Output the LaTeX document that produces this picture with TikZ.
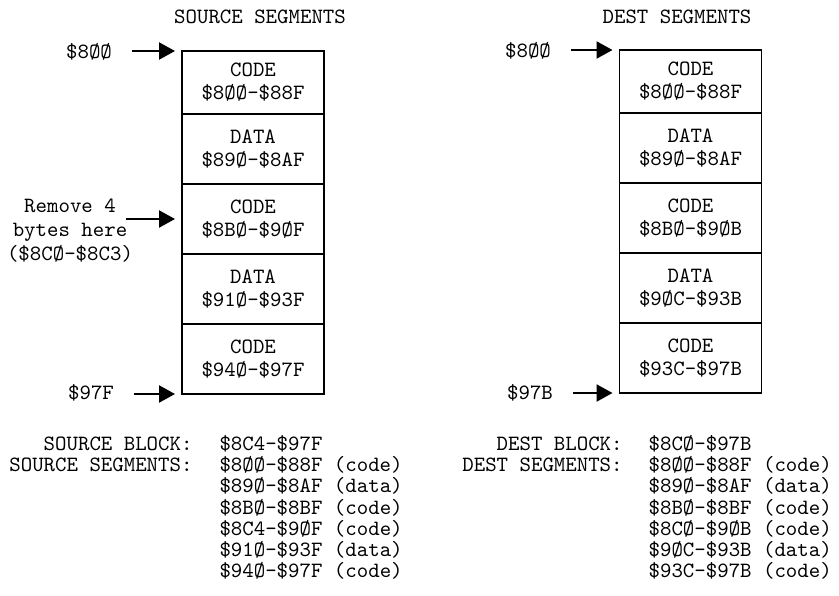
\documentclass[tikz,border=0pt]{standalone}
\usetikzlibrary{positioning,arrows.meta}
\tikzset{
  every node/.style={font=\fontsize{10.9}{11.5}\ttfamily},
  seg/.style={draw, line width=0.9pt, minimum width=71pt, minimum height=35pt,
    inner sep=0pt, outer sep=0pt, align=center},
  topseg/.style={seg, minimum height=31.5pt},
  ptr/.style={-{Triangle[length=8pt,width=8.5pt]}, line width=1.1pt,
    shorten <=6.5pt, shorten >=3.5pt},
}

\begin{document}
\begin{tikzpicture}[x=0.5pt,y=-0.5pt]
    \useasboundingbox (0,0) rectangle (839,595);

    % source segments
    \node (srctitle) at (260,17) {SOURCE SEGMENTS};
    \node[topseg] (s1) at (253,82.5) {CODE\\\$8ØØ-\$88F};
    \node[seg, below=0pt of s1] (s2) {DATA\\\$89Ø-\$8AF};
    \node[seg, below=0pt of s2] (s3) {CODE\\\$8BØ-\$9ØF};
    \node[seg, below=0pt of s3] (s4) {DATA\\\$91Ø-\$93F};
    \node[seg, below=0pt of s4] (s5) {CODE\\\$94Ø-\$97F};

    \node (srctop) at (89,52) {\$8ØØ};
    \node[align=center, font=\fontsize{10.9}{12}\ttfamily] (remove) at (70,231)
      {Remove 4\\bytes here\\(\$8CØ-\$8C3)};
    \node (srcbot) at (91,393) {\$97F};

    \draw[ptr] (srctop.east |- s1.north west) -- (s1.north west);
    \draw[ptr, shorten <=-7pt] (remove.east |- s3.west) -- (s3.west);
    \draw[ptr] (srcbot.east |- s5.south west) -- (s5.south west);

    % dest segments
    \node (dsttitle) at (677,17) {DEST SEGMENTS};
    \node[topseg] (d1) at (690.5,81.5) {CODE\\\$8ØØ-\$88F};
    \node[seg, below=0pt of d1] (d2) {DATA\\\$89Ø-\$8AF};
    \node[seg, below=0pt of d2] (d3) {CODE\\\$8BØ-\$9ØB};
    \node[seg, below=0pt of d3] (d4) {DATA\\\$9ØC-\$93B};
    \node[seg, below=0pt of d4] (d5) {CODE\\\$93C-\$97B};

    \node (dsttop) at (528,51) {\$8ØØ};
    \node (dstbot) at (530,393) {\$97B};

    \draw[ptr] (dsttop.east |- d1.north west) -- (d1.north west);
    \draw[ptr] (dstbot.east |- d5.south west) -- (d5.south west);

    % block lists
    \node[anchor=north west, inner sep=0pt] (srclist) at (9,435)
      {\fontsize{10.9}{10}\selectfont
       \begin{tabular}{@{}r@{\hspace{13.5pt}}l@{}}
         SOURCE BLOCK:    & \$8C4-\$97F\\
         SOURCE SEGMENTS: & \$8ØØ-\$88F (code)\\
                          & \$89Ø-\$8AF (data)\\
                          & \$8BØ-\$8BF (code)\\
                          & \$8C4-\$9ØF (code)\\
                          & \$91Ø-\$93F (data)\\
                          & \$94Ø-\$97F (code)
       \end{tabular}};
    \node[anchor=north west, inner sep=0pt] (dstlist) at (462,435)
      {\fontsize{10.9}{10}\selectfont
       \begin{tabular}{@{}r@{\hspace{13pt}}l@{}}
         DEST BLOCK:    & \$8CØ-\$97B\\
         DEST SEGMENTS: & \$8ØØ-\$88F (code)\\
                        & \$89Ø-\$8AF (data)\\
                        & \$8BØ-\$8BF (code)\\
                        & \$8CØ-\$9ØB (code)\\
                        & \$9ØC-\$93B (data)\\
                        & \$93C-\$97B (code)
       \end{tabular}};
\end{tikzpicture}
\end{document}
